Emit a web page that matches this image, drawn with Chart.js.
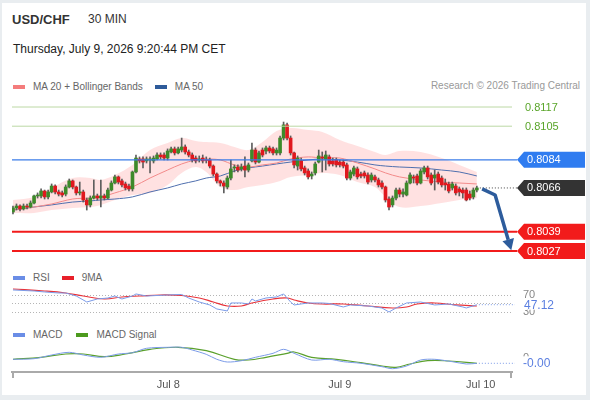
<!DOCTYPE html>
<html>
<head>
<meta charset="utf-8">
<script src="https://cdn.jsdelivr.net/npm/chart.js@4.4.1/dist/chart.umd.min.js"></script>
<style>
  body { margin:0; width:590px; height:400px; background:#e9edf0; position:relative; overflow:hidden;
         font-family: Arial, "Liberation Sans", sans-serif; }
  #card { position:absolute; left:2px; top:3px; width:584px; height:392px; background:#fff; }
  .txt { position:absolute; white-space:nowrap; line-height:1; }
  .leg { position:absolute; display:flex; align-items:center; font-size:10px; color:#666; white-space:nowrap; }
  .sw { display:inline-block; width:12px; height:4px; margin-right:8px; }
  canvas { position:absolute; left:0; }
</style>
</head>
<body>
<div id="card"></div>
<div class="txt" style="left:12px;top:13px;font-size:13px;font-weight:bold;color:#333">USD/CHF</div>
<div class="txt" style="left:88px;top:13px;font-size:12px;color:#333">30 MIN</div>
<div class="txt" style="left:13px;top:43px;font-size:12px;color:#222">Thursday, July 9, 2026 9:20:44 PM CET</div>

<div class="leg" style="left:13px;top:81px"><span class="sw" style="background:#f47c7c"></span>MA 20 + Bollinger Bands
  <span class="sw" style="background:#2e5b9a;margin-left:12px"></span>MA 50</div>
<div class="txt" style="right:10px;top:81px;font-size:10px;color:#999">Research © 2026 Trading Central</div>

<div class="leg" style="left:13px;top:272px"><span class="sw" style="background:#6a8de6"></span>RSI
  <span class="sw" style="background:#e8202a;margin-left:12px"></span>9MA</div>
<div class="leg" style="left:13px;top:329px"><span class="sw" style="background:#6a8de6"></span>MACD
  <span class="sw" style="background:#4c9a1e;margin-left:14px"></span>MACD Signal</div>

<canvas id="main" width="590" height="162" style="top:100px"></canvas>
<canvas id="rsi" width="590" height="38" style="top:283px"></canvas>
<canvas id="macd" width="590" height="55" style="top:340px"></canvas>

<script>
// ---- candles (30 min) ----
const opens = [0.80514,0.80539,0.80551,0.80533,0.80551,0.80545,0.80570,0.80614,0.80614,0.80645,
  0.80608,0.80639,0.80676,0.80639,0.80633,0.80626,0.80670,0.80708,0.80670,0.80633,
  0.80639,0.80589,0.80558,0.80601,0.80614,0.80601,0.80614,0.80601,0.80651,0.80695,
  0.80733,0.80708,0.80689,0.80676,0.80658,0.80764,0.80845,0.80845,0.80833,0.80839,
  0.80833,0.80845,0.80870,0.80870,0.80851,0.80889,0.80908,0.80883,0.80901,0.80920,
  0.80889,0.80870,0.80851,0.80839,0.80851,0.80839,0.80839,0.80801,0.80751,0.80708,
  0.80695,0.80670,0.80726,0.80789,0.80795,0.80783,0.80801,0.80776,0.80833,0.80901,
  0.80826,0.80901,0.80895,0.80914,0.80908,0.80883,0.80883,0.80976,0.81058,0.80976,
  0.80883,0.80801,0.80833,0.80789,0.80770,0.80739,0.80758,0.80826,0.80858,0.80845,
  0.80858,0.80833,0.80839,0.80826,0.80826,0.80808,0.80726,0.80751,0.80783,0.80751,
  0.80758,0.80745,0.80714,0.80733,0.80714,0.80695,0.80670,0.80595,0.80558,0.80601,
  0.80651,0.80626,0.80620,0.80695,0.80733,0.80739,0.80695,0.80764,0.80789,0.80745,
  0.80726,0.80751,0.80726,0.80695,0.80689,0.80664,0.80676,0.80658,0.80651,0.80651,
  0.80626,0.80608,0.80651];
const highs = [0.80551,0.80564,0.80558,0.80564,0.80564,0.80583,0.80620,0.80633,0.80658,0.80651,
  0.80651,0.80689,0.80683,0.80651,0.80645,0.80683,0.80720,0.80714,0.80676,0.80701,
  0.80651,0.80601,0.80614,0.80714,0.80626,0.80714,0.80626,0.80664,0.80708,0.80745,
  0.80739,0.80720,0.80701,0.80689,0.80770,0.80870,0.80858,0.80858,0.80858,0.80858,
  0.80864,0.80883,0.80883,0.80883,0.80908,0.80920,0.80920,0.80920,0.80976,0.80933,
  0.80901,0.80883,0.80864,0.80864,0.80870,0.80858,0.80851,0.80808,0.80758,0.80714,
  0.80708,0.80739,0.80839,0.80808,0.80808,0.80814,0.80858,0.80820,0.80945,0.80914,
  0.80895,0.80914,0.80926,0.80926,0.80920,0.80914,0.80989,0.81076,0.81070,0.80989,
  0.80889,0.80864,0.80851,0.80801,0.80783,0.80764,0.80826,0.80901,0.80889,0.80895,
  0.80870,0.80851,0.80851,0.80839,0.80839,0.80820,0.80776,0.80801,0.80795,0.80764,
  0.80770,0.80758,0.80758,0.80745,0.80726,0.80708,0.80676,0.80608,0.80614,0.80664,
  0.80664,0.80658,0.80708,0.80758,0.80745,0.80751,0.80783,0.80801,0.80801,0.80758,
  0.80776,0.80764,0.80739,0.80720,0.80701,0.80701,0.80689,0.80670,0.80664,0.80664,
  0.80645,0.80664,0.80676];
const lows = [0.80501,0.80526,0.80520,0.80526,0.80533,0.80539,0.80564,0.80601,0.80601,0.80595,
  0.80595,0.80633,0.80626,0.80614,0.80608,0.80614,0.80664,0.80658,0.80620,0.80620,
  0.80576,0.80526,0.80545,0.80595,0.80589,0.80545,0.80589,0.80595,0.80645,0.80689,
  0.80689,0.80670,0.80651,0.80645,0.80645,0.80758,0.80820,0.80789,0.80820,0.80758,
  0.80820,0.80839,0.80845,0.80839,0.80839,0.80883,0.80870,0.80876,0.80889,0.80876,
  0.80858,0.80826,0.80820,0.80826,0.80820,0.80820,0.80789,0.80739,0.80695,0.80676,
  0.80633,0.80658,0.80714,0.80764,0.80764,0.80770,0.80733,0.80764,0.80826,0.80814,
  0.80820,0.80858,0.80876,0.80883,0.80870,0.80870,0.80870,0.80964,0.80964,0.80870,
  0.80789,0.80776,0.80770,0.80745,0.80720,0.80720,0.80745,0.80820,0.80764,0.80776,
  0.80801,0.80801,0.80795,0.80795,0.80789,0.80714,0.80714,0.80739,0.80720,0.80726,
  0.80726,0.80689,0.80701,0.80701,0.80670,0.80658,0.80576,0.80526,0.80545,0.80589,
  0.80608,0.80608,0.80614,0.80689,0.80695,0.80683,0.80689,0.80751,0.80720,0.80683,
  0.80651,0.80689,0.80670,0.80651,0.80633,0.80651,0.80620,0.80614,0.80601,0.80583,
  0.80589,0.80595,0.80639];
const closes = [0.80539,0.80551,0.80533,0.80551,0.80545,0.80570,0.80614,0.80620,0.80645,0.80608,
  0.80639,0.80676,0.80639,0.80626,0.80620,0.80670,0.80708,0.80670,0.80633,0.80639,
  0.80589,0.80558,0.80601,0.80614,0.80601,0.80614,0.80601,0.80651,0.80695,0.80733,
  0.80701,0.80683,0.80664,0.80658,0.80764,0.80851,0.80833,0.80826,0.80845,0.80845,
  0.80851,0.80870,0.80858,0.80851,0.80895,0.80908,0.80883,0.80908,0.80920,0.80889,
  0.80870,0.80839,0.80833,0.80845,0.80833,0.80836,0.80801,0.80751,0.80708,0.80695,
  0.80676,0.80726,0.80783,0.80795,0.80776,0.80795,0.80776,0.80808,0.80901,0.80826,
  0.80883,0.80870,0.80914,0.80895,0.80883,0.80901,0.80976,0.81058,0.80976,0.80883,
  0.80808,0.80851,0.80783,0.80758,0.80733,0.80751,0.80814,0.80864,0.80851,0.80870,
  0.80814,0.80814,0.80808,0.80808,0.80801,0.80726,0.80764,0.80789,0.80733,0.80739,
  0.80739,0.80701,0.80745,0.80714,0.80683,0.80670,0.80589,0.80545,0.80601,0.80651,
  0.80626,0.80639,0.80695,0.80745,0.80726,0.80695,0.80770,0.80789,0.80733,0.80695,
  0.80745,0.80701,0.80683,0.80683,0.80645,0.80689,0.80633,0.80639,0.80633,0.80589,
  0.80601,0.80651,0.80664];

// ---- MA 20 / Bollinger / MA 50, read at some candles ----
const bandIdx = [0,6,11,17,22,25,29,34,39,44,48,52,55,59,63,67,71,75,79,84,88,93,98,103,106,110,116,122,127,132];
const bandUpper = [0.80589,0.80608,0.80664,0.80726,0.80726,0.80714,0.80745,0.80808,0.80901,0.80945,
  0.80976,0.80958,0.80951,0.80945,0.80920,0.80901,0.80951,0.81020,0.81039,0.81026,
  0.81014,0.80964,0.80926,0.80889,0.80870,0.80895,0.80889,0.80851,0.80808,0.80764];
const bandLower = [0.80508,0.80508,0.80526,0.80539,0.80545,0.80558,0.80589,0.80620,0.80633,0.80683,
  0.80758,0.80795,0.80764,0.80670,0.80651,0.80670,0.80683,0.80701,0.80733,0.80745,
  0.80758,0.80745,0.80701,0.80670,0.80608,0.80545,0.80551,0.80570,0.80589,0.80601];
const ma20 = [0.80526,0.80545,0.80564,0.80595,0.80601,0.80608,0.80633,0.80670,0.80726,0.80776,
  0.80814,0.80839,0.80845,0.80839,0.80808,0.80795,0.80808,0.80820,0.80845,0.80858,
  0.80851,0.80851,0.80820,0.80783,0.80758,0.80733,0.80714,0.80701,0.80695,0.80689];
const ma50 = [0.80526,0.80545,0.80558,0.80576,0.80583,0.80589,0.80595,0.80608,0.80639,0.80664,
  0.80689,0.80708,0.80726,0.80739,0.80770,0.80789,0.80801,0.80814,0.80826,0.80839,
  0.80845,0.80839,0.80826,0.80808,0.80801,0.80795,0.80789,0.80776,0.80764,0.80739];

// ---- key levels and forecast ----
const levelPrices = [0.8117, 0.8105, 0.8084, 0.8039, 0.8027];
const levelKinds = ['target', 'target', 'pivot', 'support', 'support'];
const fcX = [133.5, 137.2, 141.8];
const fcY = [0.80658, 0.80620, 0.80275];

// ---- RSI ----
const rsiIdx = [0,6,9,13,15,18,21,24,27,29,31,34,35,38,41,44,48,50,53,56,58,61,62,65,67,68,69,72,75,77,79,80,84,88,90,94,96,101,105,107,109,112,116,120,124,128,129,132];
const rsiVals = [81.8,79.4,77.1,74.7,74.7,67.6,53.5,60.6,62.9,67.6,60.6,67.6,72.4,67.6,68.8,70.0,71.2,62.9,53.5,46.5,
  37.1,32.4,51.2,51.2,48.8,60.6,55.9,62.9,65.3,72.4,53.5,46.5,51.2,51.2,50.0,41.8,46.5,44.1,39.4,30.0,
  39.4,51.2,53.5,46.5,48.8,41.8,39.4,47.12];
const rsiMaIdx = [0,9,15,20,26,31,36,42,48,53,57,61,65,68,74,78,80,84,88,94,101,108,112,115,120,126,132];
const rsiMaVals = [84.1,79.4,74.7,67.6,60.6,65.3,67.6,70.0,68.8,62.9,53.5,44.1,44.1,51.2,60.6,62.9,58.2,51.2,48.8,48.8,
  44.1,39.4,41.8,48.8,51.2,46.5,44.1];
const rsiLevels = [70, 50, 30];
const rsiLabelled = [70, 30];

// ---- MACD ----
const macdIdx = [0,6,11,16,20,25,30,34,38,44,48,51,55,58,61,65,69,74,77,80,85,90,94,99,105,108,112,116,120,125,129,132];
const macdVals = [-0.000023,-0.000017,0.00002,0.000047,0.00002,-0.000003,0.00003,0.000043,0.000087,0.000097,
  0.000097,0.00007,0.000027,-0.000023,-0.00005,-0.000037,-0.000003,0.000037,0.000077,0.000037,
  -0.00003,-0.000023,-0.000047,-0.000063,-0.000097,-0.000117,-0.00009,-0.00003,-0.000023,-0.000047,
  -0.00007,-0.000063];
const signalIdx = [0,8,15,20,26,32,39,47,55,63,67,72,78,80,85,92,99,105,109,113,118,124,132];
const signalVals = [-0.000023,-0.000003,0.00003,0.00003,0.000003,0.00003,0.000077,0.000097,0.000063,-0.000023,
  -0.00003,-0.000003,0.000037,0.00005,-0.000003,-0.000023,-0.000057,-0.00009,-0.000103,-0.00007,
  -0.000037,-0.00004,-0.000063];

// ---- time axis ----
const dateTicks = [44.2, 93, 133.1];
const dateLabels = ['Jul 8', 'Jul 9', 'Jul 10'];

const FONT = 'Arial, "Liberation Sans", sans-serif';
Chart.defaults.font.family = FONT;
const X_MIN = -0.28, X_MAX = 142;
const PAD = { left: 12, right: 78, top: 0, bottom: 0 };
const UP = '#3d8a2a', DOWN = '#e0181e';
const levelStyle = {
  target:  { line: '#bcd8a4', width: 1, text: '#5aa52a' },
  pivot:   { line: '#3b7de8', width: 1.2, tag: '#2f7cf0' },
  support: { line: '#f21b1b', width: 2, tag: '#f21b1b' }
};

function pts(xs, ys) {
  return xs.map((v, k) => ({ x: v, y: ys[k] }));
}

function drawTag(ctx, xl, yy, color, label) {
  ctx.fillStyle = color;
  ctx.beginPath();
  ctx.moveTo(xl, yy);
  ctx.lineTo(xl + 7, yy - 8);
  ctx.lineTo(xl + 68, yy - 8);
  ctx.lineTo(xl + 68, yy + 8);
  ctx.lineTo(xl + 7, yy + 8);
  ctx.closePath();
  ctx.fill();
  ctx.fillStyle = '#fff';
  ctx.fillText(label, xl + 10, yy + 0.5);
}

function dotted(ctx, x1, x2, yy, color) {
  ctx.save();
  ctx.strokeStyle = color;
  ctx.lineWidth = 1;
  ctx.setLineDash([1, 2]);
  ctx.beginPath();
  ctx.moveTo(x1, yy);
  ctx.lineTo(x2, yy);
  ctx.stroke();
  ctx.restore();
}

const mainDecor = {
  id: 'mainDecor',
  afterDatasetsDraw(chart) {
    const { ctx, chartArea: a, scales: { x, y } } = chart;
    const tagX = a.right + 5;
    const last = closes.length - 1;
    ctx.save();
    ctx.font = '11px ' + FONT;
    ctx.textBaseline = 'middle';

    levelPrices.forEach((p, k) => {
      const st = levelStyle[levelKinds[k]];
      const py = y.getPixelForValue(p);
      ctx.strokeStyle = st.line;
      ctx.lineWidth = st.width;
      ctx.beginPath();
      ctx.moveTo(a.left, py);
      ctx.lineTo(st.tag ? tagX : a.right, py);
      ctx.stroke();
      if (st.tag) {
        drawTag(ctx, tagX, py, st.tag, p.toFixed(4));
      } else {
        ctx.fillStyle = st.text;
        ctx.fillText(p.toFixed(4), tagX + 8, py + 0.5);
      }
    });

    // last price
    const ly = y.getPixelForValue(closes[last]);
    dotted(ctx, x.getPixelForValue(last) + 3, tagX, ly, '#444');
    drawTag(ctx, tagX, ly, '#333', closes[last].toFixed(4));

    // forecast arrow
    const p = fcX.map((v, k) => [x.getPixelForValue(v), y.getPixelForValue(fcY[k])]);
    const [tx, ty] = p[p.length - 1];
    const [sx, sy] = p[p.length - 2];
    const len = Math.hypot(tx - sx, ty - sy);
    const dx = (tx - sx) / len, dy = (ty - sy) / len;
    const bx = tx - dx * 11, by = ty - dy * 11;
    ctx.strokeStyle = '#2d5c9c';
    ctx.fillStyle = '#2d5c9c';
    ctx.lineWidth = 3.5;
    ctx.lineJoin = 'round';
    ctx.beginPath();
    ctx.moveTo(p[0][0], p[0][1]);
    for (let k = 1; k < p.length - 1; k++) ctx.lineTo(p[k][0], p[k][1]);
    ctx.lineTo(bx, by);
    ctx.stroke();
    ctx.beginPath();
    ctx.moveTo(tx, ty);
    ctx.lineTo(bx - dy * 6, by + dx * 6);
    ctx.lineTo(bx + dy * 6, by - dx * 6);
    ctx.closePath();
    ctx.fill();
    ctx.restore();
  }
};

const idx = closes.map((c, i) => i);
const candleColor = idx.map(i => closes[i] >= opens[i] ? UP : DOWN);

new Chart(document.getElementById('main'), {
  type: 'bar',
  data: {
    datasets: [
      { type: 'bar', data: idx.map(i => ({ x: i, y: [opens[i], closes[i]] })),
        backgroundColor: candleColor, barThickness: 3, grouped: false, order: 1 },
      { type: 'bar', data: idx.map(i => ({ x: i, y: [lows[i], highs[i]] })),
        backgroundColor: '#5e5e5e', barThickness: 1, grouped: false, order: 2 },
      { type: 'line', data: pts(bandIdx, ma20), borderColor: '#f28a8a', borderWidth: 1,
        pointRadius: 0, tension: 0.35, order: 3 },
      { type: 'line', data: pts(bandIdx, ma50), borderColor: '#4f6fae', borderWidth: 1,
        pointRadius: 0, tension: 0.35, order: 3 },
      { type: 'line', data: pts(bandIdx, bandUpper), borderWidth: 0, pointRadius: 0, tension: 0.35,
        fill: '+1', backgroundColor: 'rgba(255,195,195,0.5)', order: 5 },
      { type: 'line', data: pts(bandIdx, bandLower), borderWidth: 0, pointRadius: 0, tension: 0.35,
        fill: false, order: 5 }
    ]
  },
  options: {
    responsive: false, animation: false, events: [],
    layout: { padding: PAD },
    plugins: { legend: { display: false }, tooltip: { enabled: false } },
    scales: {
      x: { type: 'linear', min: X_MIN, max: X_MAX, offset: false, display: false },
      y: { type: 'linear', min: 0.8020125, max: 0.8121375, display: false }
    }
  },
  plugins: [mainDecor]
});

// ---- RSI panel ----
const rsiDecor = {
  id: 'rsiDecor',
  beforeDatasetsDraw(chart) {
    const { ctx, chartArea: a, scales: { y } } = chart;
    rsiLevels.forEach(v => dotted(ctx, a.left, a.right, Math.round(y.getPixelForValue(v)) + 0.5, '#b5b5b5'));
  },
  afterDatasetsDraw(chart) {
    const { ctx, chartArea: a, scales: { x, y } } = chart;
    const lastV = rsiVals[rsiVals.length - 1];
    const ly = y.getPixelForValue(lastV);
    ctx.save();
    ctx.font = '11px ' + FONT;
    ctx.textBaseline = 'middle';
    ctx.fillStyle = '#888';
    rsiLabelled.forEach(v => ctx.fillText(String(v), a.right + 11, y.getPixelForValue(v)));
    dotted(ctx, x.getPixelForValue(rsiIdx[rsiIdx.length - 1]) + 2, a.right + 3, ly, '#7b9be8');
    ctx.fillStyle = '#fff';
    ctx.fillRect(a.right + 11, ly - 5, 30, 10);
    ctx.font = '12px ' + FONT;
    ctx.fillStyle = '#5b7fe0';
    ctx.fillText(lastV.toFixed(2), a.right + 12, ly + 0.5);
    ctx.restore();
  }
};

new Chart(document.getElementById('rsi'), {
  type: 'line',
  data: {
    datasets: [
      { data: pts(rsiIdx, rsiVals), borderColor: '#7b9be8', borderWidth: 1, pointRadius: 0, tension: 0 },
      { data: pts(rsiMaIdx, rsiMaVals), borderColor: '#e8333a', borderWidth: 1.2, pointRadius: 0, tension: 0.4 }
    ]
  },
  options: {
    responsive: false, animation: false, events: [],
    layout: { padding: { left: 12, right: 78, top: 2, bottom: 4 } },
    plugins: { legend: { display: false }, tooltip: { enabled: false } },
    scales: {
      x: { type: 'linear', min: X_MIN, max: X_MAX, display: false },
      y: { min: 18.2, max: 93.5, display: false }
    }
  },
  plugins: [rsiDecor]
});

// ---- MACD panel + time axis ----
const macdDecor = {
  id: 'macdDecor',
  afterDatasetsDraw(chart) {
    const { ctx, chartArea: a, scales: { x, y } } = chart;
    const lastV = macdVals[macdVals.length - 1];
    const ly = y.getPixelForValue(lastV);
    ctx.save();
    ctx.font = '11px ' + FONT;
    ctx.textBaseline = 'middle';
    ctx.fillStyle = '#888';
    ctx.fillText('0', a.right + 11, y.getPixelForValue(0) + 1);
    dotted(ctx, x.getPixelForValue(macdIdx[macdIdx.length - 1]) + 2, a.right + 3, ly, '#7b9be8');
    ctx.fillStyle = '#fff';
    ctx.fillRect(a.right + 10, ly - 7, 32, 14);
    ctx.font = '12px ' + FONT;
    ctx.fillStyle = '#5b7fe0';
    ctx.fillText(lastV.toFixed(2), a.right + 11, ly + 0.5);
    ctx.restore();
  },
  afterDraw(chart) {
    const { ctx, chartArea: a } = chart;
    ctx.save();
    ctx.strokeStyle = '#aaa';
    ctx.lineWidth = 2;
    ctx.beginPath();
    ctx.moveTo(a.left + 1, a.bottom);
    ctx.lineTo(a.left + 1, a.bottom + 6);
    ctx.moveTo(a.right - 1, a.bottom);
    ctx.lineTo(a.right - 1, a.bottom + 6);
    ctx.stroke();
    ctx.restore();
  }
};

new Chart(document.getElementById('macd'), {
  type: 'line',
  data: {
    datasets: [
      { data: pts(macdIdx, macdVals), borderColor: '#7b9be8', borderWidth: 1, pointRadius: 0, tension: 0.3 },
      { data: pts(signalIdx, signalVals), borderColor: '#5aa02c', borderWidth: 1.2, pointRadius: 0, tension: 0.4 }
    ]
  },
  options: {
    responsive: false, animation: false, events: [],
    layout: { padding: { left: 12, right: 78, top: 2, bottom: 0 } },
    plugins: { legend: { display: false }, tooltip: { enabled: false } },
    scales: {
      x: {
        type: 'linear', min: X_MIN, max: X_MAX,
        afterBuildTicks: s => { s.ticks = dateTicks.map(v => ({ value: v })); },
        afterFit: s => { s.height = 23; },
        ticks: { autoSkip: false, maxRotation: 0, padding: 6, color: '#555', font: { size: 11 },
                 callback: (v, i) => dateLabels[i] },
        grid: { display: false, drawTicks: false },
        border: { display: true, color: '#aaa', width: 2 }
      },
      y: { min: -0.00015, max: 0.00015, display: false }
    }
  },
  plugins: [macdDecor]
});
</script>
</body>
</html>
